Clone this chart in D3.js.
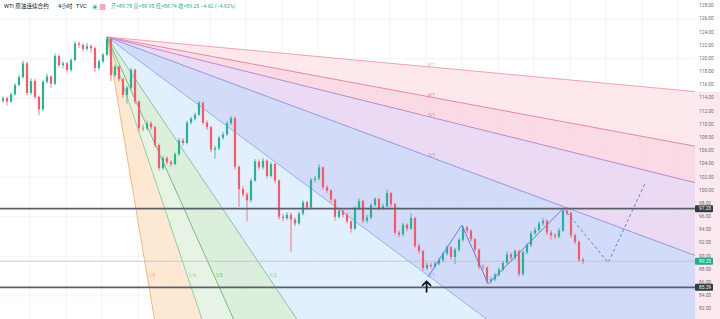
<!DOCTYPE html>
<html>
<head>
<meta charset="utf-8">
<script src="https://cdn.jsdelivr.net/npm/d3@7"></script>
<style>
  html, body { margin: 0; padding: 0; background: #fff; }
  svg { display: block; font-family: Roboto, "Noto Sans CJK SC", sans-serif; }
</style>
</head>
<body>
<svg width="720" height="319"></svg>
<script>
// ---- data (WTI 4h candles) ----
const firstOpen = 113.6;

const closes = [
  114.0, 113.5, 114.6, 116.0, 117.2, 119.3, 114.8, 116.6, 114.2, 112.3,
  116.5, 117.3, 116.2, 120.4, 119.0, 119.3, 118.3, 119.8, 122.3, 122.1,
  121.5, 121.9, 121.6, 118.6, 119.6, 120.6, 123.0, 117.5, 118.8, 116.9,
  114.5, 115.6, 118.3, 113.5, 109.5, 109.4, 110.2, 109.6, 106.9, 103.4,
  104.9, 104.3, 104.0, 105.5, 107.6, 107.2, 110.3, 110.9, 111.5, 113.3,
  110.3, 109.6, 106.2, 106.4, 108.0, 108.5, 110.2, 111.0, 103.6, 100.2,
  99.4, 98.5, 101.5, 104.4, 103.5, 104.5, 102.2, 104.0, 101.5, 96.0,
  95.8, 96.3, 95.6, 95.0, 96.5, 98.2, 97.4, 101.6, 101.8, 103.5,
  100.5, 100.0, 98.6, 96.0, 96.9, 96.3, 95.3, 94.2, 97.3, 98.4,
  95.4, 95.9, 97.8, 98.7, 97.3, 97.6, 99.6, 97.9, 93.6, 93.3,
  94.8, 94.2, 95.8, 91.6, 90.8, 88.2, 88.7, 88.5, 88.9, 89.4,
  90.4, 91.4, 89.9, 91.0, 92.5, 94.4, 93.9, 92.6, 91.0, 88.4,
  88.3, 86.2, 86.5, 87.2, 88.0, 89.0, 90.3, 89.8, 90.8, 87.3,
  90.6, 91.7, 93.5, 94.0, 95.0, 95.4, 93.6, 93.2, 93.0, 93.9,
  96.9, 96.6, 93.2, 92.2, 89.5, 89.25
];

const highs = [
  114.3, 114.2, 114.9, 116.3, 117.6, 119.7, 119.5, 117.0, 116.9, 114.4,
  116.8, 117.7, 117.5, 120.8, 120.6, 119.6, 119.5, 120.1, 122.7, 122.6,
  122.3, 122.4, 122.2, 121.8, 119.9, 120.9, 123.3, 123.2, 119.1, 119.0,
  117.1, 115.9, 118.6, 118.5, 113.7, 110.0, 110.6, 110.5, 109.8, 107.1,
  105.3, 105.2, 104.6, 105.8, 108.0, 107.9, 110.6, 111.2, 111.8, 113.6,
  113.5, 110.6, 109.8, 106.8, 108.3, 108.9, 110.5, 111.3, 111.2, 103.8,
  100.6, 99.7, 101.8, 104.8, 104.7, 104.9, 104.7, 104.3, 104.2, 101.7,
  96.4, 96.7, 96.6, 95.9, 96.8, 98.5, 98.4, 101.9, 102.2, 104.0,
  103.7, 100.8, 100.2, 98.8, 97.3, 97.1, 96.6, 95.5, 97.6, 98.8,
  98.6, 96.3, 98.1, 99.0, 98.9, 98.0, 100.2, 99.8, 98.1, 93.9,
  95.1, 95.0, 96.6, 96.0, 91.9, 91.0, 89.1, 89.0, 89.2, 89.8,
  90.7, 91.7, 91.6, 91.3, 92.8, 94.6, 94.6, 94.1, 92.8, 91.2,
  88.8, 88.5, 86.9, 87.5, 88.3, 89.3, 90.8, 90.6, 91.1, 91.0,
  90.9, 92.0, 93.8, 94.4, 95.3, 95.8, 95.6, 94.0, 93.5, 94.3,
  97.2, 97.1, 96.8, 93.5, 92.4, 89.8
];

const lows = [
  113.3, 112.9, 113.3, 114.4, 115.8, 117.0, 114.4, 114.5, 113.9, 111.4,
  112.0, 116.2, 115.6, 116.0, 118.7, 118.5, 117.9, 118.0, 119.6, 121.6,
  121.1, 121.2, 120.9, 118.0, 118.2, 119.3, 120.4, 116.6, 117.2, 116.5,
  114.1, 113.2, 115.3, 113.1, 109.0, 109.0, 109.1, 109.2, 106.5, 103.0,
  103.1, 103.9, 103.6, 103.8, 105.3, 106.8, 107.0, 110.0, 110.6, 111.3,
  110.0, 109.2, 105.8, 104.8, 106.1, 107.7, 108.3, 109.9, 103.2, 97.5,
  99.0, 95.3, 98.2, 101.3, 103.1, 103.2, 101.8, 101.9, 101.1, 95.6,
  95.3, 95.5, 90.7, 94.6, 94.8, 96.2, 97.0, 97.2, 101.2, 101.5,
  100.1, 99.6, 98.2, 95.4, 95.7, 95.9, 95.0, 93.6, 94.0, 97.0,
  95.0, 95.0, 95.6, 97.5, 97.0, 97.0, 97.4, 97.5, 93.2, 92.9,
  93.0, 93.8, 94.0, 91.2, 90.4, 87.8, 87.9, 88.1, 88.2, 88.6,
  89.1, 90.1, 89.5, 88.8, 90.7, 92.2, 93.5, 92.2, 90.6, 88.0,
  87.9, 85.9, 85.9, 86.2, 86.9, 87.7, 88.8, 89.4, 89.5, 86.9,
  87.1, 90.3, 91.4, 93.2, 93.7, 94.6, 93.2, 92.5, 92.6, 92.7,
  93.7, 96.2, 92.8, 91.8, 89.1, 88.8
];

const priceTicks = [82, 84, 86, 88, 90, 92, 94, 96, 98, 100, 102, 104, 106,
  108, 110, 112, 114, 116, 118, 120, 122, 124, 126, 128];
const gridPrices = [84, 90, 96, 102, 108, 114, 120, 126];
const gridCandles = [6.75, 15.75, 24.75, 33.75, 42.75, 51.75, 60.75, 69.75, 78.75,
  87.75, 96.75, 105.75, 114.75, 123.75, 132.75, 141.75, 150.75, 159.75, 168.75];

// Gann fan: origin at the top, 1/1 point at the March low
const fanOrigin = { i: 26, p: 123.3 };
const fanTarget = { i: 106.75, p: 86.86 };
const fanLevels = ["1/8", "1/4", "1/3", "1/2", "1/1", "2/1", "3/1", "4/1", "8/1"];

const levelLines = [97.23, 85.29];
const lastPrice = 89.25;

const patternPoints = [[106.3, 86.9], [114.7, 94.75], [121.3, 85.8], [140.1, 97.29]];
const projectionPoints = [[140.1, 97.29], [151.3, 89.03], [160.5, 101.08]];
const arrowMark = { i: 105.9, top: 86.2, bottom: 84.6 };

const titleParts = ["WTI 原油连续合约", "4小时", "TVC"];
const ohlcText = "开=89.78 高=89.95 低=88.74 收=89.25 −4.62 (−4.92%)";

// ---- styles ----
const fanLineColor = ["#f5b272", "#8ccb8c", "#6ab56e", "#78bfa0", "#88a9ee",
  "#8c8ce4", "#b87ccf", "#e57c9d", "#f19aa5"];
const fanBandColor = ["#fde4cb", "#e3f2e1", "#d6ecd7", "#ddecfb",
  "#cad6f8", "#e6d4f1", "#f9d4e0", "#fde4e7"];
const upColor = "#2fae98";
const downColor = "#f05d6a";

const width = 720;
const height = 319;
const plotRight = 695;

const svg = d3.select("svg");

const x = d3.scaleLinear().domain([0, 173]).range([3, 695]);
const y = d3.scaleLinear().domain([82, 128]).range([309, 6]);

svg.append("defs").append("clipPath").attr("id", "plot")
  .append("rect").attr("x", 0).attr("y", 0)
  .attr("width", plotRight).attr("height", height);

const plot = svg.append("g").attr("clip-path", "url(#plot)");

// grid
plot.append("g")
  .selectAll("line")
  .data(gridPrices)
  .join("line")
  .attr("x1", 0).attr("x2", plotRight)
  .attr("y1", d => y(d)).attr("y2", d => y(d))
  .attr("stroke", "#eef0f5").attr("stroke-width", 0.8);

plot.append("g")
  .selectAll("line")
  .data(gridCandles)
  .join("line")
  .attr("x1", d => x(d)).attr("x2", d => x(d))
  .attr("y1", 0).attr("y2", height)
  .attr("stroke", "#eef0f5").attr("stroke-width", 0.8);

// Gann fan rays
const ox = x(fanOrigin.i);
const oy = y(fanOrigin.p);
const dx = x(fanTarget.i) - ox;
const dy = y(fanTarget.p) - oy;

const rays = fanLevels.map((label, k) => {
  const [a, b] = label.split("/").map(Number);
  const fx = a <= b ? a / b : 1;
  const fy = a <= b ? 1 : b / a;
  const vx = dx * fx, vy = dy * fy;
  const s = 5000 / Math.hypot(vx, vy);
  return { label, k, vx, vy, farX: ox + vx * s, farY: oy + vy * s, steep: a < b };
});

plot.append("g")
  .selectAll("path")
  .data(d3.pairs(rays))
  .join("path")
  .attr("d", ([r1, r2]) => `M${ox},${oy}L${r1.farX},${r1.farY}L${r2.farX},${r2.farY}Z`)
  .attr("fill", ([r1]) => fanBandColor[r1.k])
  .attr("fill-opacity", 0.85);

plot.append("g")
  .selectAll("line")
  .data(rays)
  .join("line")
  .attr("x1", ox).attr("y1", oy)
  .attr("x2", d => d.farX).attr("y2", d => d.farY)
  .attr("stroke", d => fanLineColor[d.k])
  .attr("stroke-width", 0.9);

plot.append("g")
  .selectAll("text")
  .data(rays)
  .join("text")
  .attr("x", d => ox + d.vx + (d.steep ? 1 : -2))
  .attr("y", d => oy + d.vy - 1)
  .attr("dominant-baseline", "middle")
  .attr("font-size", 4.5)
  .attr("fill", d => fanLineColor[d.k])
  .text(d => d.label);

// current price line
plot.append("line")
  .attr("x1", 0).attr("x2", plotRight)
  .attr("y1", y(lastPrice)).attr("y2", y(lastPrice))
  .attr("stroke", "#b8bbc4").attr("stroke-width", 0.7);

// candles
const candles = closes.map((c, i) => ({
  i, o: i === 0 ? firstOpen : closes[i - 1], c, h: highs[i], l: lows[i]
}));

const candle = plot.append("g")
  .selectAll("g")
  .data(candles)
  .join("g");

candle.append("line")
  .attr("x1", d => x(d.i)).attr("x2", d => x(d.i))
  .attr("y1", d => y(d.h)).attr("y2", d => y(d.l))
  .attr("stroke", d => d.c >= d.o ? upColor : downColor)
  .attr("stroke-width", 0.8);

candle.append("rect")
  .attr("x", d => x(d.i) - 1.1)
  .attr("width", 2.2)
  .attr("y", d => y(Math.max(d.o, d.c)))
  .attr("height", d => Math.max(0.7, Math.abs(y(d.o) - y(d.c))))
  .attr("fill", d => d.c >= d.o ? upColor : downColor);

// horizontal levels
plot.append("g")
  .selectAll("line")
  .data(levelLines)
  .join("line")
  .attr("x1", 0).attr("x2", plotRight)
  .attr("y1", d => y(d)).attr("y2", d => y(d))
  .attr("stroke", "#5d606b").attr("stroke-width", 1.8);

// pattern drawing
const path = d3.line().x(d => x(d[0])).y(d => y(d[1]));

plot.append("path")
  .attr("d", path(patternPoints))
  .attr("fill", "none")
  .attr("stroke", "#5782f0").attr("stroke-width", 1);

plot.append("path")
  .attr("d", path(projectionPoints))
  .attr("fill", "none")
  .attr("stroke", "#5782f0").attr("stroke-width", 1)
  .attr("stroke-dasharray", "3,2.5");

// arrow
const ax = x(arrowMark.i);
plot.append("path")
  .attr("d", `M${ax},${y(arrowMark.bottom)}V${y(arrowMark.top)}M${ax - 4},${y(arrowMark.top) + 4}L${ax},${y(arrowMark.top)}L${ax + 4},${y(arrowMark.top) + 4}`)
  .attr("fill", "none")
  .attr("stroke", "#131722").attr("stroke-width", 1.8)
  .attr("stroke-linecap", "round").attr("stroke-linejoin", "round");

// price axis
const eightOne = rays[rays.length - 1];
svg.append("rect")
  .attr("x", plotRight).attr("width", width - plotRight)
  .attr("y", oy + eightOne.vy / eightOne.vx * (plotRight - ox))
  .attr("height", height)
  .attr("fill", "#fce9ef");

svg.append("g")
  .selectAll("text")
  .data(priceTicks)
  .join("text")
  .attr("x", 699)
  .attr("y", d => y(d))
  .attr("dominant-baseline", "middle")
  .attr("font-size", 4.8)
  .attr("fill", "#6a6d78")
  .text(d => d.toFixed(2));

const axisTags = [
  { p: levelLines[0], color: "#363a45" },
  { p: lastPrice, color: "#22ab94" },
  { p: levelLines[1], color: "#363a45" }
];

const tag = svg.append("g")
  .selectAll("g")
  .data(axisTags)
  .join("g")
  .attr("transform", d => `translate(${plotRight},${y(d.p)})`);

tag.append("rect")
  .attr("x", 0).attr("y", -3.5)
  .attr("width", 18).attr("height", 7)
  .attr("rx", 1)
  .attr("fill", d => d.color);

tag.append("text")
  .attr("x", 4)
  .attr("dominant-baseline", "middle")
  .attr("font-size", 4.8)
  .attr("fill", "#fff")
  .text(d => d.p.toFixed(2));

// header
svg.append("g")
  .selectAll("text")
  .data(titleParts)
  .join("text")
  .attr("x", (d, i) => [4, 58, 76][i])
  .attr("y", 7)
  .attr("dominant-baseline", "middle")
  .attr("font-size", 5.6)
  .attr("fill", "#131722")
  .text(d => d);

svg.append("rect")
  .attr("x", 92).attr("y", 4).attr("width", 6).attr("height", 6).attr("rx", 1)
  .attr("fill", "#d7f0ea");

svg.append("circle")
  .attr("cx", 95).attr("cy", 7).attr("r", 1.6)
  .attr("fill", upColor);

svg.append("rect")
  .attr("x", 99.5).attr("y", 4).attr("width", 6).attr("height", 6).attr("rx", 1)
  .attr("fill", "#f7a9bb");

svg.append("text")
  .attr("x", 111).attr("y", 7)
  .attr("dominant-baseline", "middle")
  .attr("font-size", 5.2)
  .attr("fill", upColor)
  .text(ohlcText);
</script>
</body>
</html>
